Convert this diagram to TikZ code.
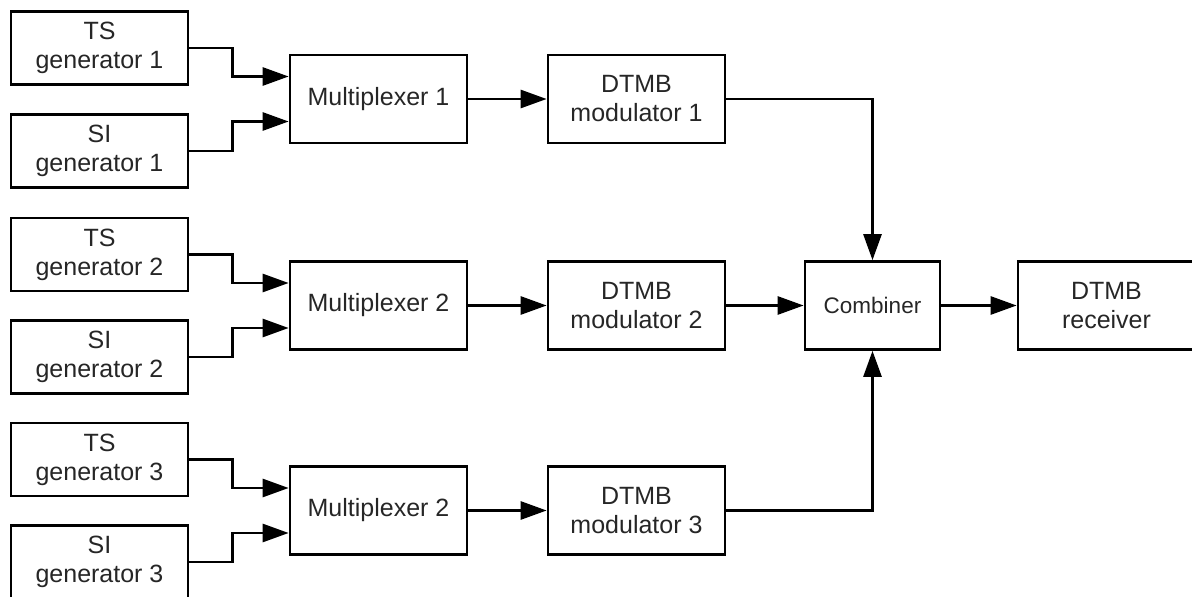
\documentclass[tikz,border=0pt]{standalone}
\usepackage{fontspec}
\setmainfont{Liberation Sans}
\usetikzlibrary{arrows.meta,calc}
\begin{document}
\begin{tikzpicture}[x=1pt,y=-1pt,
  blk/.style={draw=black,line width=2.7pt,rectangle,inner sep=0pt,align=center,
    text=black!85,font=\fontsize{25}{29}\selectfont},
  gen/.style={blk,minimum width=177pt,minimum height=73pt},
  big/.style={blk,minimum width=177pt,minimum height=88pt},
  comb/.style={blk,minimum width=135pt,minimum height=88pt,font=\fontsize{22.5}{27}\selectfont},
  conn/.style={line width=2.7pt,-{Triangle[length=26pt,width=18pt]}},
  line/.style={line width=2.7pt}]
\useasboundingbox (0,0) rectangle (1192,597);
\node[gen] (ts1) at (99.5,48) {TS\\generator 1};
\node[gen] (si1) at (99.5,151) {SI\\generator 1};
\node[gen] (ts2) at (99.5,254.5) {TS\\generator 2};
\node[gen] (si2) at (99.5,357) {SI\\generator 2};
\node[gen] (ts3) at (99.5,459.5) {TS\\generator 3};
\node[gen] (si3) at (99.5,562) {SI\\generator 3};
\node[big] (mux1) at (378.5,99) {Multiplexer 1};
\node[big] (mux2) at (378.5,305.5) {Multiplexer 2};
\node[big] (mux3) at (378.5,510.5) {Multiplexer 2};
\node[big] (mod1) at (636.5,99) {DTMB\\modulator 1};
\node[big] (mod2) at (636.5,305.5) {DTMB\\modulator 2};
\node[big] (mod3) at (636.5,510.5) {DTMB\\modulator 3};
\node[comb] (cmb) at (872.5,305.5) {Combiner};
\node[big] (rx) at (1106.5,305.5) {DTMB\\receiver};
\foreach \t/\s/\m in {ts1/si1/mux1,ts2/si2/mux2,ts3/si3/mux3}{
  \draw[conn] (\t.east) -- ++(43,0) |- ($(\m.west)+(0,-22.5)$);
  \draw[conn] (\s.east) -- ++(43,0) |- ($(\m.west)+(0,22.5)$);
}
\draw[conn] (mux1) -- (mod1);
\draw[conn] (mux2) -- (mod2);
\draw[conn] (mux3) -- (mod3);
\draw[conn] (mod1.east) -| (cmb.north);
\draw[conn] (mod2) -- (cmb);
\draw[conn] (mod3.east) -| (cmb.south);
\draw[conn] (cmb) -- (rx);
\end{tikzpicture}
\end{document}
